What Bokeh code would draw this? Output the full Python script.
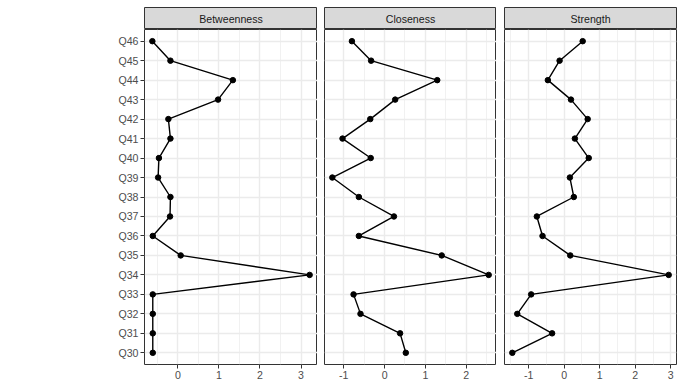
from bokeh.plotting import figure
from bokeh.layouts import row, column
from bokeh.models import FactorRange, Range1d, FixedTicker, Label
from bokeh.embed import file_html
from bokeh.resources import INLINE

# ---- data ----
items = ["Q30", "Q31", "Q32", "Q33", "Q34", "Q35", "Q36", "Q37", "Q38",
         "Q39", "Q40", "Q41", "Q42", "Q43", "Q44", "Q45", "Q46"]
betweenness = [-0.61, -0.61, -0.61, -0.61, 3.21, 0.07, -0.61, -0.19, -0.18,
               -0.48, -0.46, -0.18, -0.23, 0.98, 1.34, -0.18, -0.62]
closeness = [0.52, 0.38, -0.59, -0.76, 2.55, 1.40, -0.63, 0.23, -0.63,
             -1.28, -0.34, -1.03, -0.35, 0.26, 1.29, -0.33, -0.80]
strength = [-1.46, -0.34, -1.32, -0.93, 2.94, 0.17, -0.61, -0.77, 0.27,
            0.16, 0.69, 0.30, 0.66, 0.19, -0.46, -0.13, 0.52]
titles = ["Betweenness", "Closeness", "Strength"]
ticks_b = [0, 1, 2, 3]
ticks_c = [-1, 0, 1, 2]
ticks_s = [-1, 0, 1, 2, 3]
minor_b = [-0.5, 0.5, 1.5, 2.5]
minor_c = [-0.5, 0.5, 1.5, 2.5]
minor_s = [-1.5, -0.5, 0.5, 1.5, 2.5]

FONT = "Liberation Sans"
FS = "10.6px"

yr = FactorRange(factors=items, range_padding=0.1, range_padding_units="absolute")

# geometry: (min_border_left, frame_width, min_border_right)
geo = [(144, 173, 0), (7, 172, 0), (8, 172, 7)]
STRIP_TOP = 7
STRIP_H = 22
FRAME_H = 335
BOTTOM = 26


def xrange_for(vals):
    lo, hi = min(vals), max(vals)
    pad = 0.05 * (hi - lo)
    return Range1d(lo - pad, hi + pad)


def make_strip(title, ml, fw, mr):
    s = figure(width=ml + fw + mr, height=STRIP_TOP + STRIP_H,
               x_range=Range1d(0, 1), y_range=Range1d(0, 1),
               x_axis_type=None, y_axis_type=None, toolbar_location=None,
               output_backend="svg", min_border_left=ml, min_border_right=mr,
               min_border_top=STRIP_TOP, min_border_bottom=0)
    s.background_fill_color = "#D9D9D9"
    s.border_fill_color = "white"
    s.outline_line_color = "#333333"
    s.outline_line_width = 1
    s.xgrid.visible = False
    s.ygrid.visible = False
    s.add_layout(Label(x=0.5, y=0.5, text=title, text_align="center",
                       text_baseline="middle", text_font=FONT,
                       text_font_size=FS, text_color="#1A1A1A"))
    return s


def make_panel(vals, ticks, minors, ml, fw, mr, show_y):
    p = figure(width=ml + fw + mr, height=FRAME_H + BOTTOM,
               x_range=xrange_for(vals), y_range=yr,
               toolbar_location=None, output_backend="svg",
               min_border_left=ml, min_border_right=mr,
               min_border_top=0, min_border_bottom=BOTTOM)
    p.background_fill_color = "white"
    p.outline_line_color = "#333333"
    p.outline_line_width = 1
    p.xaxis.ticker = FixedTicker(ticks=ticks, minor_ticks=minors)
    for ax in p.axis:
        ax.axis_line_color = None
        ax.major_tick_line_color = "#333333"
        ax.major_tick_in = 0
        ax.major_tick_out = 4
        ax.minor_tick_line_color = None
        ax.major_label_text_font = FONT
        ax.major_label_text_font_size = FS
        ax.major_label_text_color = "#4D4D4D"
        ax.major_label_standoff = 2
    p.xaxis.major_label_standoff = 2
    p.xaxis.major_label_overrides = {t: str(t) for t in ticks}
    if not show_y:
        p.yaxis.visible = False
    p.xgrid.grid_line_color = "#EBEBEB"
    p.xgrid.grid_line_width = 1.4
    p.xgrid.minor_grid_line_color = "#EBEBEB"
    p.xgrid.minor_grid_line_width = 0.7
    p.ygrid.grid_line_color = "#EBEBEB"
    p.ygrid.grid_line_width = 1.4
    p.line(x=vals, y=items, line_color="black", line_width=1.4)
    p.scatter(x=vals, y=items, size=5.5, fill_color="black", line_color="black")
    return p


series = [betweenness, closeness, strength]
ticks = [ticks_b, ticks_c, ticks_s]
minors = [minor_b, minor_c, minor_s]
cols = []
for i in range(3):
    ml, fw, mr = geo[i]
    s = make_strip(titles[i], ml, fw, mr)
    p = make_panel(series[i], ticks[i], minors[i], ml, fw, mr, i == 0)
    cols.append(column(s, p, spacing=0))

layout = row(*cols, spacing=0)
open("out.html", "w").write(file_html(layout, INLINE))
